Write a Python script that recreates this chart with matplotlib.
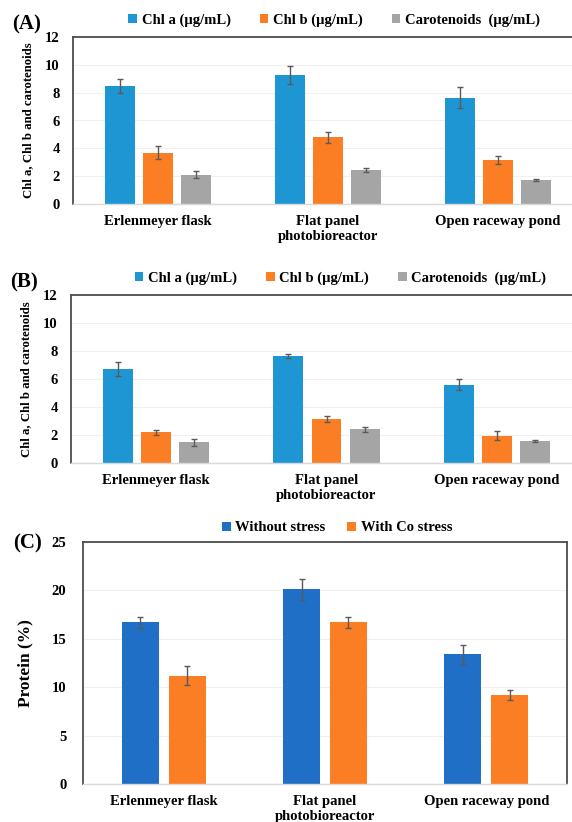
import numpy as np
import matplotlib
matplotlib.use("Agg")
import matplotlib.pyplot as plt

plt.rcParams['font.family'] = ['Liberation Serif', 'DejaVu Serif']
plt.rcParams['font.weight'] = 'bold'

categories = ["Erlenmeyer flask", "Flat panel\nphotobioreactor", "Open raceway pond"]

# Panel A: pigment content (µg/mL)
pig_series = ["Chl a (µg/mL)", "Chl b (µg/mL)", "Carotenoids  (µg/mL)"]
a_chla = [8.45, 9.25, 7.65]
a_chla_err = [0.5, 0.65, 0.75]
a_chlb = [3.7, 4.8, 3.15]
a_chlb_err = [0.45, 0.4, 0.3]
a_car = [2.1, 2.45, 1.75]
a_car_err = [0.25, 0.12, 0.08]

# Panel B: pigment content with Co stress (µg/mL)
b_chla = [6.75, 7.65, 5.6]
b_chla_err = [0.5, 0.15, 0.4]
b_chlb = [2.2, 3.15, 1.95]
b_chlb_err = [0.17, 0.22, 0.32]
b_car = [1.5, 2.4, 1.55]
b_car_err = [0.25, 0.2, 0.06]

# Panel C: protein content (%)
prot_series = ["Without stress", "With Co stress"]
c_without = [16.7, 20.1, 13.4]
c_without_err = [0.6, 1.1, 1.0]
c_with = [11.2, 16.7, 9.2]
c_with_err = [1.0, 0.6, 0.5]

pig_colors = ["#1f96d4", "#fb7d24", "#a5a5a5"]
prot_colors = ["#1f6fc6", "#fb7d24"]
err_color = "#5a5a5a"
dark_spine = "#4d4d4d"
light_spine = "#d9d9d9"
grid_color = "#f0f0f0"

fig = plt.figure(figsize=(5.72, 8.22), dpi=100)

x = np.arange(len(categories))


def style_axes(ax, right_visible, ypad):
    ax.spines['top'].set_color(dark_spine)
    ax.spines['left'].set_color(dark_spine)
    ax.spines['top'].set_linewidth(1.3)
    ax.spines['left'].set_linewidth(1.3)
    ax.spines['bottom'].set_color(light_spine)
    ax.spines['bottom'].set_linewidth(1.0)
    ax.spines['right'].set_visible(right_visible)
    if right_visible:
        ax.spines['right'].set_color(dark_spine)
        ax.spines['right'].set_linewidth(1.3)
    ax.tick_params(axis='both', length=0, labelsize=10.5)
    ax.tick_params(axis='y', pad=ypad)
    ax.tick_params(axis='x', pad=8)
    ax.yaxis.grid(True, color=grid_color, linewidth=0.8)
    ax.set_axisbelow(True)
    ax.set_xticks(x)
    ax.set_xticklabels(categories, fontweight='bold', fontsize=10.5)
    for lab in ax.get_yticklabels():
        lab.set_fontweight('bold')


def pigment_panel(rect, vals, errs, tag, tag_xy, leg_x):
    ax = fig.add_axes(rect)
    w = 0.176
    step = 0.224
    for i, (v, e) in enumerate(zip(vals, errs)):
        ax.bar(x + (i - 1) * step, v, width=w, color=pig_colors[i], label=pig_series[i],
               yerr=e, error_kw=dict(ecolor=err_color, elinewidth=1.0, capsize=2.5, capthick=1.0))
    ax.set_xlim(-0.5, 2.5)
    ax.set_ylim(0, 12)
    ax.set_yticks(np.arange(0, 13, 2))
    style_axes(ax, right_visible=False, ypad=9.5)
    ax.set_ylabel("Chl a, Chl b and carotenoids", fontsize=9.2, fontweight='bold', labelpad=8)
    ax.legend(loc='center', bbox_to_anchor=(leg_x, 1.10), ncol=3, frameon=False,
              prop={'weight': 'bold', 'size': 10.5}, handlelength=0.6, handleheight=0.6,
              handletextpad=0.3, columnspacing=2.0)
    fig.text(tag_xy[0], tag_xy[1], tag, fontsize=15, fontweight='bold', ha='center', va='center')
    return ax


pigment_panel([73 / 572, 1 - 204 / 822, 510 / 572, 167 / 822],
              [a_chla, a_chlb, a_car], [a_chla_err, a_chlb_err, a_car_err],
              "(A)", (27 / 572, 1 - 24 / 822), 0.512)

pigment_panel([71 / 572, 1 - 463 / 822, 511 / 572, 168 / 822],
              [b_chla, b_chlb, b_car], [b_chla_err, b_chlb_err, b_car_err],
              "(B)", (24 / 572, 1 - 282 / 822), 0.527)

# Panel C: protein
axc = fig.add_axes([83 / 572, 1 - 784 / 822, 484 / 572, 242 / 822])
wc = 0.23
off = 0.145
axc.bar(x - off, c_without, width=wc, color=prot_colors[0], label=prot_series[0],
        yerr=c_without_err, error_kw=dict(ecolor=err_color, elinewidth=1.0, capsize=2.5, capthick=1.0))
axc.bar(x + off, c_with, width=wc, color=prot_colors[1], label=prot_series[1],
        yerr=c_with_err, error_kw=dict(ecolor=err_color, elinewidth=1.0, capsize=2.5, capthick=1.0))
axc.set_xlim(-0.5, 2.5)
axc.set_ylim(0, 25)
axc.set_yticks(np.arange(0, 26, 5))
style_axes(axc, right_visible=True, ypad=12)
axc.set_ylabel("Protein (%)", fontsize=12.5, fontweight='bold', labelpad=13)
axc.legend(loc='center', bbox_to_anchor=(0.525, 1.058), ncol=2, frameon=False,
           prop={'weight': 'bold', 'size': 10.5}, handlelength=0.6, handleheight=0.6,
           handletextpad=0.3, columnspacing=1.5)
fig.text(27 / 572, 1 - 543 / 822, "(C)", fontsize=15, fontweight='bold', ha='center', va='center')

fig.savefig("out.png", dpi=100)
